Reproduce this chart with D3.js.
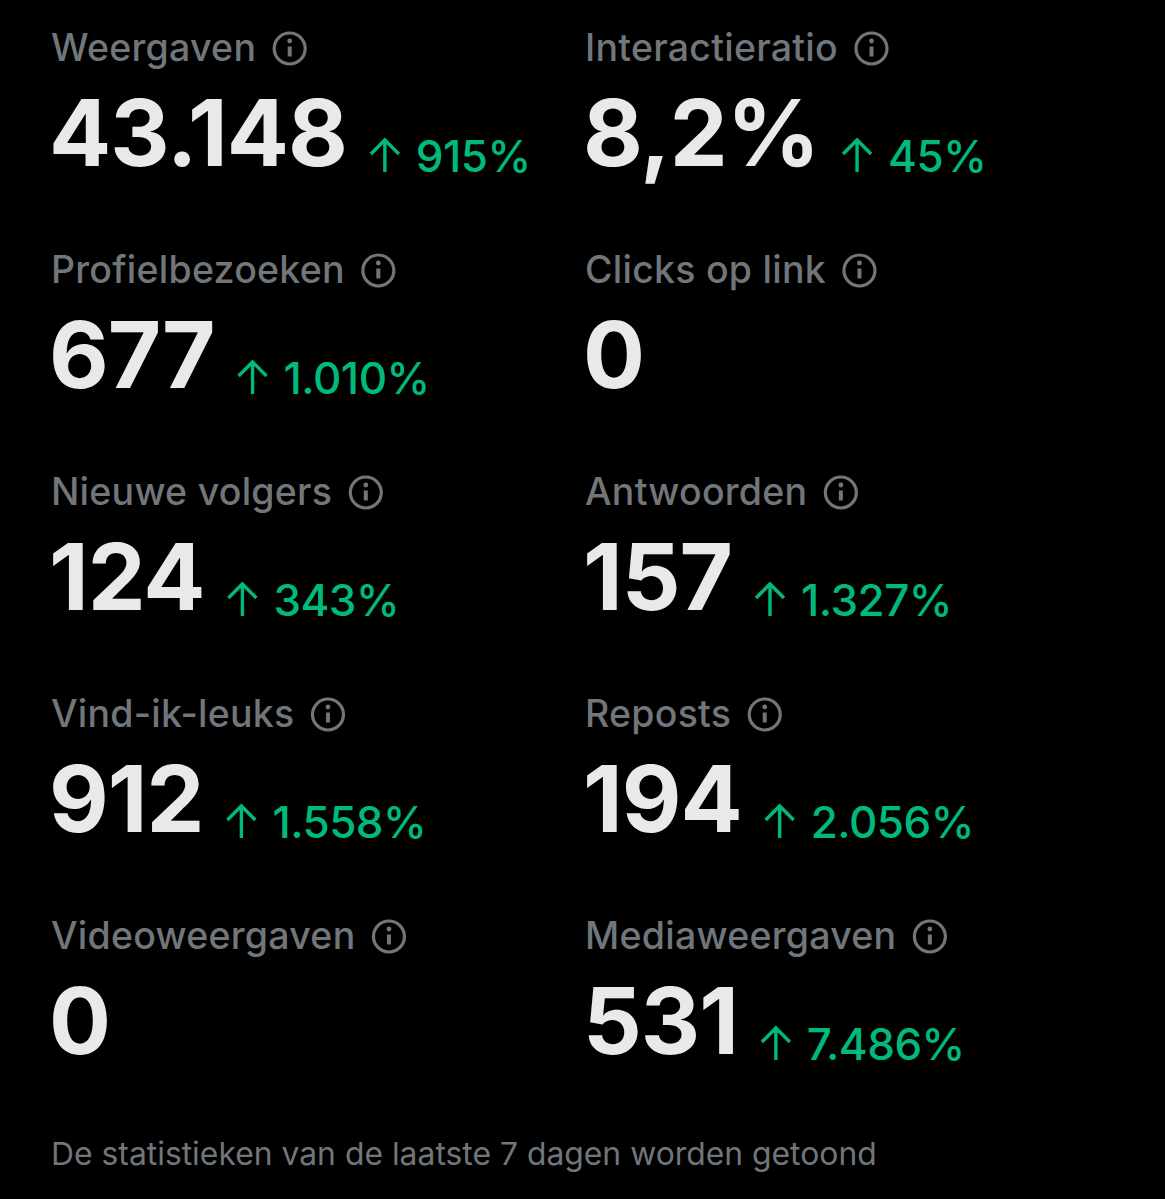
<!DOCTYPE html>
<html>
<head>
<meta charset="utf-8">
<script src="https://d3js.org/d3.v7.min.js"></script>
<style>
html,body{margin:0;padding:0;background:#000;}
svg{display:block;}
text{font-family:Inter,"Noto Sans",sans-serif;}
</style>
</head>
<body>
<svg width="1165" height="1199"></svg>
<script>
var labels = ["Weergaven","Interactieratio","Profielbezoeken","Clicks op link","Nieuwe volgers","Antwoorden","Vind-ik-leuks","Reposts","Videoweergaven","Mediaweergaven"];
var values = ["43.148","8,2%","677","0","124","157","912","194","0","531"];
var changes = ["915%","45%","1.010%",null,"343%","1.327%","1.558%","2.056%",null,"7.486%"];
var footer = "De statistieken van de laatste 7 dagen worden getoond";

var svg = d3.select("svg");
var x = d3.scalePoint().domain([0,1]).range([51,585]);
var y = d3.scalePoint().domain([0,1,2,3,4]).range([0,888]);

var rows = labels.map(function(d,i){
  return {label:d,value:values[i],change:changes[i],col:i%2,row:Math.floor(i/2)};
});

var gs = svg.selectAll("g.stat").data(rows).enter().append("g")
  .attr("class","stat")
  .attr("transform",function(d){return "translate("+x(d.col)+","+y(d.row)+")";});

var lab = gs.append("text").attr("y",61).attr("font-size",37.5).attr("font-weight",500)
  .attr("letter-spacing",0.25)
  .attr("fill","#71767b").text(function(d){return d.label;});
var val = gs.append("text").attr("x",-2).attr("y",165.5).attr("font-size",92).attr("font-weight",700)
  .attr("letter-spacing",-1).attr("fill","#e7e9ea").text(function(d){return d.value;});

// info icon and arrow go after the measured text
gs.each(function(d,i){
  var g = d3.select(this);
  var lw = lab.nodes()[i].getComputedTextLength();
  var ix = lw+33.5;
  var icon = g.append("g").attr("transform","translate("+ix+",48.5)")
    .attr("fill","none").attr("stroke","#71767b").attr("stroke-width",3.2);
  icon.append("circle").attr("r",15.5);
  icon.append("line").attr("x1",0).attr("x2",0).attr("y1",-2).attr("y2",8).attr("stroke-width",4);
  icon.append("circle").attr("cx",0).attr("cy",-7.5).attr("r",2.4).attr("fill","#71767b").attr("stroke","none");
  if(d.change){
    var vw = val.nodes()[i].getComputedTextLength();
    var ax = vw+36;
    g.append("path").attr("d","M"+ax+",172V141M"+(ax-14)+",154L"+ax+",140L"+(ax+14)+",154")
      .attr("fill","none").attr("stroke","#00ba7c").attr("stroke-width",3.4);
    g.append("text").attr("x",ax+31).attr("y",172).attr("font-size",44).attr("font-weight",500)
      .attr("letter-spacing",-0.5).attr("fill","#00ba7c").text(d.change);
  }
});

svg.append("text").attr("x",51).attr("y",1165).attr("font-size",31.85)
  .attr("fill","#71767b").text(footer);
</script>
</body>
</html>
